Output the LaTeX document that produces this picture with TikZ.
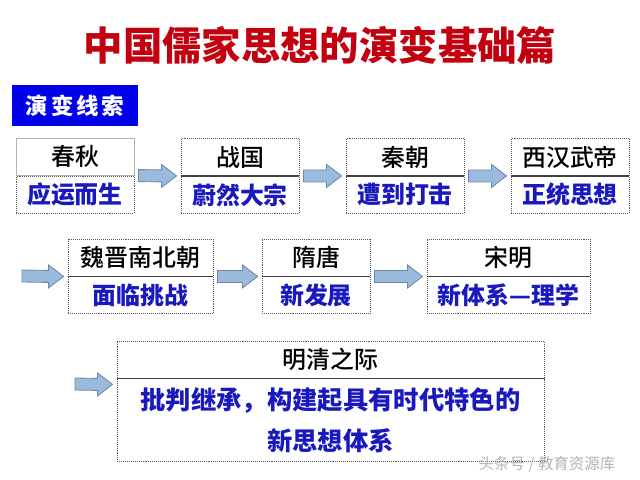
\documentclass[tikz,border=0pt]{standalone}
\usepackage{fontspec}
\setmainfont{Noto Sans CJK SC}
\newfontfamily\widefont[LetterSpace=12]{Noto Sans CJK SC}
\newfontfamily\medfont{Noto Sans CJK SC Medium}
\usetikzlibrary{positioning,calc}

\definecolor{titlered}{RGB}{195,0,15}
\definecolor{tagblue}{RGB}{0,0,235}
\definecolor{textblue}{RGB}{25,25,190}
\definecolor{arrowblue}{RGB}{155,187,222}
\definecolor{arrowedge}{RGB}{110,135,165}

\begin{document}
\begin{tikzpicture}[
    x=0.025cm, y=-0.025cm,
    head/.style={rectangle, draw=black!65, dash pattern=on 0.6pt off 0.8pt, line width=0.6pt,
        minimum height=0.925cm, inner sep=0pt, font=\medfont\fontsize{17}{20}\selectfont},
    body/.style={head, text=textblue, font=\bfseries\fontsize{17}{20}\selectfont},
    divider/.style={draw=black!75, line width=1pt},
    flow/.style={fill=arrowblue, draw=arrowedge, line width=0.6pt, line join=miter}
]
    \useasboundingbox (0,0) rectangle (640,480);

    \node[text=titlered, font=\bfseries\fontsize{28}{32}\selectfont] (title) at (320,45) {中国儒家思想的演变基础篇};
    \node[fill=tagblue, text=white, minimum width=3.15cm, minimum height=1.025cm, inner sep=0pt,
        font=\widefont\bfseries\fontsize{16}{18}\selectfont] (tag) at (75,105.5) {演变线索};

    % first row
    \node[body, minimum width=2.95cm] (cq-b) at (75,194.5) {应运而生};
    \node[head, minimum width=2.95cm, draw=black!30, solid, above=0pt of cq-b] (cq) {春秋};
    \node[head, minimum width=2.95cm] (zg) at (240,157) {战国};
    \node[body, minimum width=2.95cm, below=0pt of zg] (zg-b) {蔚然大宗};
    \node[head, minimum width=2.95cm] (qin) at (405,157) {秦朝};
    \node[body, minimum width=2.95cm, below=0pt of qin] (qin-b) {遭到打击};
    \node[head, minimum width=2.95cm] (xh) at (570,157) {西汉武帝};
    \node[body, minimum width=2.95cm, below=0pt of xh] (xh-b) {正统思想};

    % second row
    \coordinate (r2) at (18,276);
    \node[head, minimum width=3.625cm] (wj) at (140.5,257.5) {魏晋南北朝};
    \node[body, minimum width=3.625cm, below=0pt of wj] (wj-b) {面临挑战};
    \node[head, minimum width=2.7cm] (st) at (316,257.5) {隋唐};
    \node[body, minimum width=2.7cm, below=0pt of st] (st-b) {新发展};
    \node[head, minimum width=4.075cm] (sm) at (508.5,257.5) {宋明};
    \node[body, minimum width=4.075cm, below=0pt of sm] (sm-b) {新体系—理学};

    % third row
    \coordinate (r3) at (71,384);
    \node[head, minimum width=10.675cm] (mq) at (330.5,359.5) {明清之际};
    \node[body, minimum width=10.675cm, minimum height=2.075cm, align=center,
        font=\bfseries\fontsize{18}{29}\selectfont, below=0pt of mq] (mq-b)
        {批判继承，构建起具有时代特色的\\新思想体系};
    \coordinate (mq-in) at ($(mq.south west)+(0,6)$);

    \foreach \n in {zg,qin,xh,wj,st,sm,mq}
        \draw[divider] (\n.south west) -- (\n.south east);

    \foreach \a/\b in {cq.south east/zg.south west, zg.south east/qin.south west,
                       qin.south east/xh.south west, r2/wj.south west,
                       wj.south east/st.south west, st.south east/sm.south west, r3/mq-in}
        \draw[flow] ($(\a)+(4,-6)$) -- ($(\b)+(-19,-6)$) -- ($(\b)+(-19,-11.5)$)
            -- ($(\b)+(-4,0)$) -- ($(\b)+(-19,11.5)$) -- ($(\b)+(-19,6)$)
            -- ($(\a)+(4,6)$) -- cycle;

    \node[text=black!30, font=\itshape\fontsize{11}{13}\selectfont] (mark) at (547,464) {头条号 / 教育资源库};
\end{tikzpicture}
\end{document}
